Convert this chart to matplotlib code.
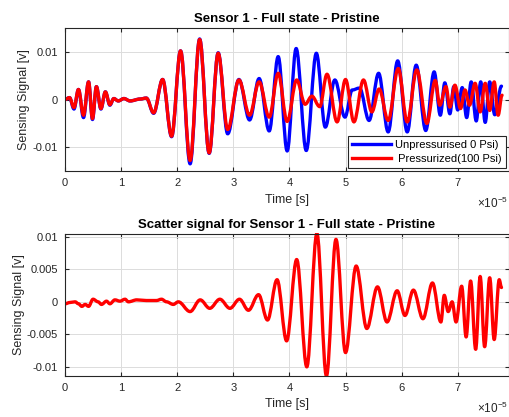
import matplotlib
matplotlib.use("Agg")
import matplotlib.pyplot as plt
import numpy as np
from matplotlib.path import Path
from matplotlib.patches import PathPatch
from matplotlib.lines import Line2D

plt.rcParams['font.family'] = ['Liberation Sans', 'DejaVu Sans']
plt.rcParams['mathtext.fontset'] = 'custom'
plt.rcParams['mathtext.rm'] = 'Liberation Sans'

# time in units of 1e-5 s, signal in volts (peaks and troughs of each trace)
t_unpress = [0.00, 0.08, 0.16, 0.24, 0.33, 0.42, 0.49, 0.56, 0.64, 0.72, 0.80, 0.87,
             0.95, 1.05, 1.16, 1.34, 1.45, 1.58, 1.74, 1.90, 2.06, 2.23, 2.40, 2.57,
             2.73, 2.90, 3.10, 3.29, 3.46, 3.64, 3.80, 3.96, 4.12, 4.30, 4.48, 4.64,
             4.81, 4.99, 5.12, 5.25, 5.42, 5.59, 5.76, 5.93, 6.10, 6.26, 6.43, 6.58,
             6.69, 6.77, 6.86, 6.93, 7.00, 7.08, 7.16, 7.24, 7.33, 7.41, 7.49, 7.57,
             7.66, 7.78]
v_unpress = [0.0000, 0.0004, -0.0020, 0.0021, -0.0038, 0.0037, -0.0042, 0.0027, -0.0020,
             0.0016, -0.0012, 0.0002, -0.0003, 0.0002, -0.0003, 0.0001, 0.0003, -0.0029,
             0.0042, -0.0078, 0.0102, -0.0135, 0.0127, -0.0113, 0.0098, -0.0072, 0.0042,
             -0.0043, 0.0044, -0.0066, 0.0090, -0.0108, 0.0107, -0.0107, 0.0097, -0.0058,
             0.0041, -0.0037, 0.0020, 0.0024, -0.0044, 0.0055, -0.0068, 0.0081, -0.0068,
             0.0072, -0.0065, 0.0058, -0.0033, 0.0035, -0.0030, 0.0027, -0.0022, 0.0025,
             -0.0038, 0.0037, -0.0045, 0.0037, -0.0048, 0.0037, -0.0032, 0.0028]

t_press = [0.00, 0.08, 0.16, 0.24, 0.33, 0.42, 0.49, 0.56, 0.64, 0.72, 0.80, 0.87,
           0.95, 1.05, 1.16, 1.34, 1.45, 1.58, 1.74, 1.90, 2.06, 2.23, 2.40, 2.57,
           2.73, 2.90, 3.10, 3.29, 3.46, 3.64, 3.80, 3.96, 4.13, 4.28, 4.40, 4.54,
           4.67, 4.85, 5.00, 5.15, 5.32, 5.47, 5.60, 5.76, 5.94, 6.10, 6.27, 6.45,
           6.60, 6.68, 6.79, 6.86, 6.95, 7.05, 7.13, 7.21, 7.31, 7.40, 7.49, 7.57,
           7.65, 7.72, 7.79]
v_press = [0.0000, 0.0004, -0.0017, 0.0021, -0.0033, 0.0037, -0.0040, 0.0027, -0.0019,
           0.0016, -0.0011, 0.0002, -0.0003, 0.0002, -0.0003, 0.0001, 0.0003, -0.0028,
           0.0042, -0.0077, 0.0102, -0.0128, 0.0126, -0.0112, 0.0097, -0.0063, 0.0041,
           -0.0033, 0.0037, -0.0037, 0.0055, -0.0046, 0.0041, -0.0010, 0.0007, -0.0015,
           0.0053, -0.0047, 0.0042, -0.0047, 0.0041, -0.0026, 0.0022, -0.0044, 0.0065,
           -0.0047, 0.0062, -0.0050, 0.0040, -0.0012, 0.0027, -0.0016, 0.0030, -0.0019,
           0.0020, -0.0012, 0.0034, -0.0026, 0.0034, -0.0023, 0.0037, -0.0033, 0.0009]

t_scatter = [0.00, 0.09, 0.18, 0.24, 0.30, 0.36, 0.42, 0.50, 0.59, 0.65, 0.74, 0.80,
             0.89, 0.98, 1.07, 1.13, 1.28, 1.45, 1.63, 1.72, 1.81, 1.93, 2.02, 2.23,
             2.41, 2.58, 2.76, 2.94, 3.11, 3.27, 3.45, 3.61, 3.78, 3.95, 4.13, 4.31,
             4.49, 4.66, 4.83, 5.00, 5.19, 5.38, 5.57, 5.74, 5.92, 6.06, 6.21, 6.38,
             6.55, 6.70, 6.76, 6.83, 6.90, 6.97, 7.07, 7.15, 7.23, 7.32, 7.40, 7.48,
             7.57, 7.65, 7.74, 7.78]
v_scatter = [-0.0003, -0.0001, 0.0000, -0.0003, -0.0007, -0.0004, -0.0007, 0.0004, 0.0000,
             -0.0004, 0.0001, -0.0003, 0.0003, 0.0001, 0.0004, 0.0000, 0.0003, 0.0002,
             0.0002, 0.0004, 0.0000, -0.0004, 0.0000, -0.0015, 0.0003, -0.0010, 0.0004,
             -0.0010, 0.0004, -0.0013, 0.0011, -0.0028, 0.0034, -0.0060, 0.0065, -0.0100,
             0.0105, -0.0114, 0.0096, -0.0078, 0.0055, -0.0041, 0.0023, -0.0031, 0.0017,
             -0.0021, 0.0018, -0.0026, 0.0029, -0.0031, 0.0010, -0.0015, 0.0000, -0.0031,
             0.0024, -0.0054, 0.0032, -0.0073, 0.0039, -0.0069, 0.0037, -0.0058, 0.0034,
             0.0022]

legend_labels = ['Unpressurised 0 Psi)', ' Pressurized(100 Psi)']
x_ticks = [0, 1, 2, 3, 4, 5, 6, 7]
scale = 1e-5
x_max = 7.914

ax_color = '#262626'
blue = (0, 0, 1)
red = (1, 0, 0)
lw = 2.4


def wave_path(t, v):
    # smooth cubic segments between successive peaks/troughs, flat at each extremum
    t = np.asarray(t) * scale
    verts = [(t[0], v[0])]
    codes = [Path.MOVETO]
    for i in range(len(t) - 1):
        dt = t[i + 1] - t[i]
        verts += [(t[i] + 0.36 * dt, v[i]), (t[i + 1] - 0.36 * dt, v[i + 1]),
                  (t[i + 1], v[i + 1])]
        codes += [Path.CURVE4] * 3
    return Path(verts, codes)


def draw_wave(ax, t, v, color):
    ax.add_patch(PathPatch(wave_path(t, v), fill=False, edgecolor=color, lw=lw,
                           capstyle='round', joinstyle='round'))


def style_axes(ax, label_x):
    ax.set_xlim(0, x_max * scale)
    ax.set_xticks(np.array(x_ticks) * scale)
    ax.set_xticklabels([str(v) for v in x_ticks])
    ax.grid(True, color='#dcdcdc', linewidth=0.7)
    ax.set_axisbelow(True)
    ax.tick_params(direction='in', length=3, width=0.8, colors=ax_color,
                   labelsize=8, top=True, right=True, pad=5)
    for s in ax.spines.values():
        s.set_color(ax_color)
        s.set_linewidth(0.8)
    ax.set_xlabel('Time [s]', fontsize=9, color=ax_color, labelpad=4)
    ax.set_ylabel('Sensing Signal [v]', fontsize=9, color=ax_color)
    ax.yaxis.set_label_coords(label_x, 0.5)
    ax.text(0.997, -0.225, r'$\times10^{-5}$', transform=ax.transAxes,
            fontsize=8.5, color=ax_color, ha='right', va='center')


fig = plt.figure(figsize=(5.09, 4.17), dpi=100)

ax1 = fig.add_axes([65 / 509, 1 - 171 / 417, 444 / 509, 143 / 417])
draw_wave(ax1, t_unpress, v_unpress, blue)
draw_wave(ax1, t_press, v_press, red)
ax1.set_ylim(-0.015, 0.015)
ax1.set_yticks([-0.01, 0, 0.01])
ax1.set_yticklabels(['-0.01', '0', '0.01'])
style_axes(ax1, (30 - 65) / 444)
ax1.set_title('Sensor 1 - Full state - Pristine', fontsize=9.5, fontweight='bold', pad=4)
handles = [Line2D([], [], color=blue, lw=lw), Line2D([], [], color=red, lw=lw)]
leg = ax1.legend(handles, legend_labels, loc='lower right', fontsize=8, frameon=True,
                 fancybox=False, edgecolor=ax_color, framealpha=1, handlelength=3.5,
                 borderaxespad=0.3, borderpad=0.35, labelspacing=0.35,
                 handletextpad=0.4)
leg.get_frame().set_linewidth(0.8)

ax2 = fig.add_axes([65 / 509, 1 - 376 / 417, 444 / 509, 142.5 / 417])
draw_wave(ax2, t_scatter, v_scatter, red)
ax2.set_ylim(min(v_scatter), max(v_scatter))
ax2.set_yticks([-0.01, -0.005, 0, 0.005, 0.01])
ax2.set_yticklabels(['-0.01', '-0.005', '0', '0.005', '0.01'])
style_axes(ax2, (25 - 65) / 444)
ax2.set_title('Scatter signal for Sensor 1 - Full state - Pristine', fontsize=9.5,
              fontweight='bold', pad=4)

fig.savefig('out.png', dpi=100)
